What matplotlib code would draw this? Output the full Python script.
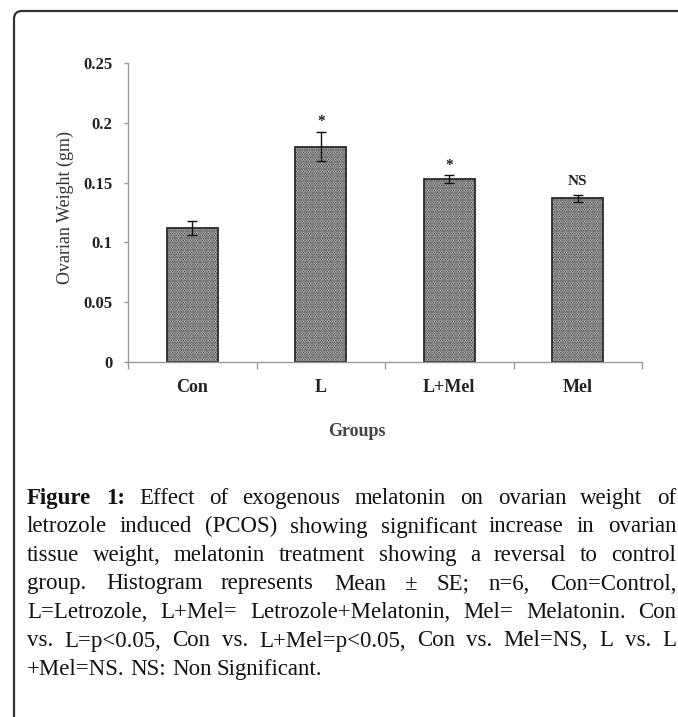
import matplotlib
matplotlib.use('Agg')
import matplotlib.pyplot as plt
from matplotlib.path import Path
from matplotlib.patches import PathPatch
from matplotlib.transforms import IdentityTransform

# ---------------- data ----------------
groups = ['Con', 'L', 'L+Mel', 'Mel']
means = [0.112, 0.180, 0.153, 0.137]
se = [0.006, 0.012, 0.003, 0.003]
sig_labels = ['', '*', '*', 'NS']
sig_y = [0.0, 0.201, 0.164, 0.151]
yticks = [0, 0.05, 0.1, 0.15, 0.2, 0.25]
ytick_labels = ['0', '0.05', '0.1', '0.15', '0.2', '0.25']
y_label = 'Ovarian Weight (gm)'
x_label = 'Groups'
caption_bold = 'Figure 1:'
caption_lines = [
    'Figure 1: Effect of exogenous melatonin on ovarian weight of',
    'letrozole induced (PCOS) showing significant increase in ovarian',
    'tissue weight, melatonin treatment showing a reversal to control',
    'group. Histogram represents Mean \u00b1 SE; n=6, Con=Control,',
    'L=Letrozole, L+Mel= Letrozole+Melatonin, Mel= Melatonin. Con',
    'vs. L=p<0.05, Con vs. L+Mel=p<0.05, Con vs. Mel=NS, L vs. L',
    '+Mel=NS. NS: Non Significant.',
]

W, H = 678, 717
fig = plt.figure(figsize=(W / 100, H / 100), dpi=100)
fig.patch.set_facecolor('white')
plt.rcParams['hatch.linewidth'] = 1.3

serif = ['Liberation Serif', 'DejaVu Serif']

# axes placement (pixels -> fractions)
ax_l, ax_r, ax_t, ax_b = 128, 642, 63, 362
ax = fig.add_axes([ax_l / W, 1 - ax_b / H, (ax_r - ax_l) / W, (ax_b - ax_t) / H])

x = list(range(len(groups)))
ax.bar(x, means, width=0.4, color='#e6e6e6', edgecolor='#2a2a2a', hatch='.......',
       linewidth=1.3, zorder=2)
ax.errorbar(x, means, yerr=se, fmt='none', ecolor='#111111', elinewidth=1.0,
            capsize=3.5, capthick=1.0, zorder=3)
for xi, lab, yv in zip(x, sig_labels, sig_y):
    if lab:
        ax.text(xi, yv, lab, ha='center', va='center', fontsize=11,
                fontweight='bold', family=serif, color='#222222')

ax.set_xlim(-0.5, len(groups) - 0.5)
ax.set_ylim(0, 0.25)
for s in ['top', 'right']:
    ax.spines[s].set_visible(False)
for s in ['left', 'bottom']:
    ax.spines[s].set_color('#999999')
    ax.spines[s].set_linewidth(1.0)

ax.set_yticks(yticks)
ax.set_yticklabels(ytick_labels, fontsize=12, fontweight='bold', family=serif,
                   color='#222222')
ax.tick_params(axis='y', direction='out', length=3, width=1, color='#999999', pad=8)

ax.set_xticks(x)
ax.set_xticklabels(groups, fontsize=13, fontweight='bold', family=serif, color='#222222')
ax.tick_params(axis='x', which='major', length=0, pad=12)
ax.set_xticks([i - 0.5 for i in range(len(groups) + 1)], minor=True)
ax.tick_params(axis='x', which='minor', direction='out', length=5, width=1,
               color='#999999')

fig.text(65 / W, 1 - 207 / H, y_label, rotation=90, ha='center', va='center',
         fontsize=13, family=serif, color='#333333')
fig.text(357 / W, 1 - 432 / H, x_label, ha='center', va='center', fontsize=13,
         fontweight='bold', family=serif, color='#444444')

# frame around figure + caption (rounded top-left corner)
r = 8
x0, ytop = 14, H - 11
verts = [(x0, -5), (x0, ytop - r), (x0, ytop), (x0 + r, ytop), (W + 5, ytop)]
codes = [Path.MOVETO, Path.LINETO, Path.CURVE3, Path.CURVE3, Path.LINETO]
fig.add_artist(PathPatch(Path(verts, codes), fill=False, edgecolor='#333333',
                         linewidth=1.6, transform=IdentityTransform()))

# justified caption
renderer = fig.canvas.get_renderer()
left, right = 27, 676
base0, step = 504, 28.5
cap_fs = 16.5
m1 = fig.text(0, 0, 'a a', fontsize=cap_fs, family=serif)
m2 = fig.text(0, 0, 'aa', fontsize=cap_fs, family=serif)
space = m1.get_window_extent(renderer).width - m2.get_window_extent(renderer).width
m1.remove()
m2.remove()
for i, line in enumerate(caption_lines):
    words = line.split(' ')
    bold_words = caption_bold.split(' ') if i == 0 else []
    arts = []
    for j, wd in enumerate(words):
        weight = 'bold' if j < len(bold_words) and wd == bold_words[j] else 'normal'
        t = fig.text(0, 0, wd, fontsize=cap_fs, family=serif, fontweight=weight,
                     color='#111111', ha='left', va='baseline',
                     transform=IdentityTransform())
        arts.append(t)
    widths = [a.get_window_extent(renderer).width for a in arts]
    if i < len(caption_lines) - 1 and len(words) > 1:
        gap = (right - left - sum(widths)) / (len(words) - 1)
    else:
        gap = space
    xpos = left
    ypix = H - (base0 + i * step)
    for a, w in zip(arts, widths):
        a.set_position((round(xpos), ypix))
        xpos += w + gap

fig.savefig('out.png', dpi=100, facecolor='white')
